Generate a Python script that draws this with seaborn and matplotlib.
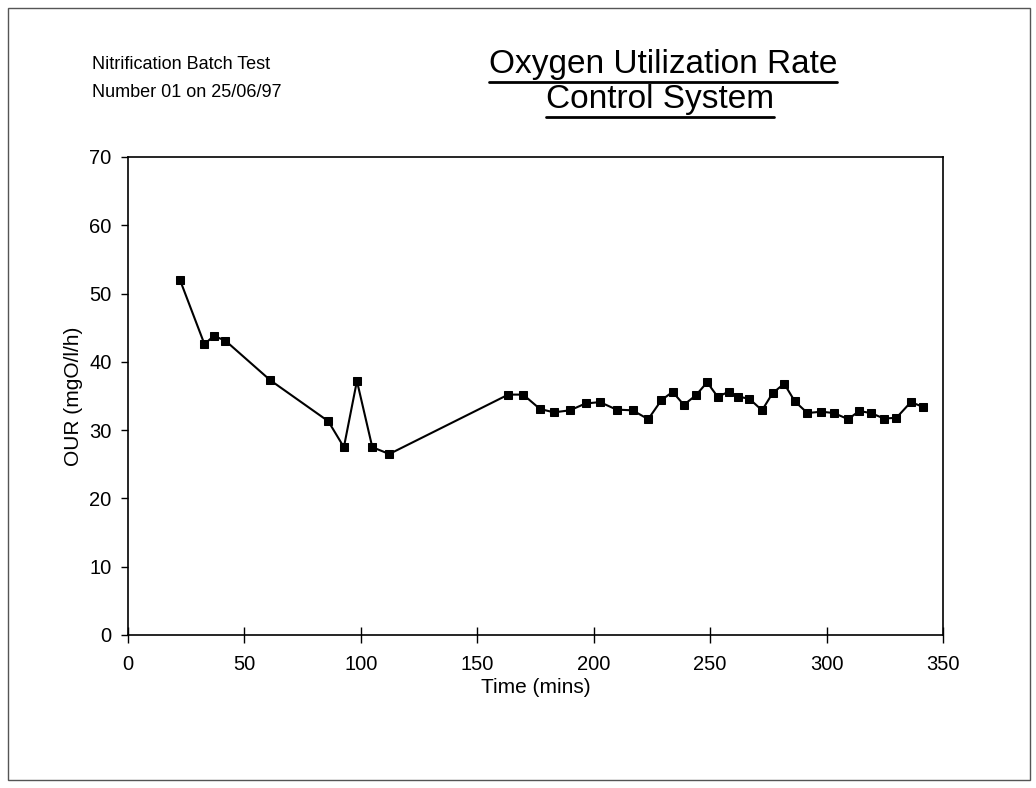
import seaborn as sns
import matplotlib.pyplot as plt
import pandas as pd
from matplotlib.lines import Line2D
from matplotlib.patches import Rectangle

sns.set_style("ticks")
plt.rcParams['font.family'] = ['Liberation Sans', 'DejaVu Sans']
plt.rcParams['text.color'] = 'black'
plt.rcParams['axes.labelcolor'] = 'black'
plt.rcParams['xtick.color'] = 'black'
plt.rcParams['ytick.color'] = 'black'

# batch test readings
time_min = [22.3, 32.8, 36.9, 41.8, 61.1, 86.0, 92.7, 98.3, 104.9, 112.2,
            163.3, 169.7, 176.9, 182.9, 189.8, 196.5, 202.7, 209.8, 216.7, 223.4,
            229.1, 233.9, 238.7, 243.9, 248.7, 253.2, 258.0, 262.0, 266.8, 272.3,
            276.8, 281.8, 286.4, 291.8, 297.8, 303.1, 309.3, 314.0, 319.0, 324.7,
            330.0, 336.2, 341.5]
our = [52.0, 42.6, 43.8, 43.1, 37.3, 31.3, 27.5, 37.2, 27.5, 26.5,
       35.2, 35.2, 33.1, 32.6, 32.9, 33.9, 34.1, 33.0, 32.9, 31.6,
       34.4, 35.6, 33.7, 35.1, 37.0, 34.9, 35.6, 34.9, 34.6, 32.9,
       35.4, 36.8, 34.2, 32.5, 32.7, 32.5, 31.6, 32.8, 32.5, 31.7,
       31.8, 34.1, 33.4]
x_ticks = [0, 50, 100, 150, 200, 250, 300, 350]
y_ticks = [0, 10, 20, 30, 40, 50, 60, 70]

df = pd.DataFrame({'Time (mins)': time_min, 'OUR (mgO/l/h)': our})

fig = plt.figure(figsize=(10.36, 7.88), dpi=100)
ax = fig.add_axes([0.1236, 0.1942, 0.7866, 0.6066])

sns.lineplot(data=df, x='Time (mins)', y='OUR (mgO/l/h)', ax=ax, color='black',
             marker='s', markersize=6, markeredgecolor='black', linewidth=1.5)

ax.set_xlim(0, 350)
ax.set_ylim(0, 70)
ax.set_xticks(x_ticks)
ax.set_yticks(y_ticks)
ax.tick_params(axis='x', direction='inout', length=11, width=1, labelsize=14.5, pad=9)
ax.tick_params(axis='y', direction='out', length=5, width=1, labelsize=14.5, pad=7)
for s in ax.spines.values():
    s.set_linewidth(1.2)
    s.set_color('black')
ax.set_xlabel('Time (mins)', fontsize=15, labelpad=3)
ax.set_ylabel('OUR (mgO/l/h)', fontsize=15, labelpad=4)

# header texts
fig.text(0.089, 0.912, 'Nitrification Batch Test', fontsize=13, ha='left', va='baseline')
fig.text(0.089, 0.877, 'Number 01 on 25/06/97', fontsize=13, ha='left', va='baseline')
t1 = fig.text(0.640, 0.907, 'Oxygen Utilization Rate', fontsize=24, ha='center', va='baseline')
t2 = fig.text(0.637, 0.863, 'Control System', fontsize=24, ha='center', va='baseline')

fig.canvas.draw()
r = fig.canvas.get_renderer()
for t in (t1, t2):
    bb = t.get_window_extent(r).transformed(fig.transFigure.inverted())
    fig.add_artist(Line2D([bb.x0, bb.x1], [bb.y0 - 0.002, bb.y0 - 0.002],
                          transform=fig.transFigure, color='black', linewidth=2))

# outer frame
fig.add_artist(Rectangle((0.008, 0.01), 0.986, 0.98, transform=fig.transFigure,
                         fill=False, edgecolor='#555555', linewidth=1))

fig.savefig('out.png', dpi=100)
